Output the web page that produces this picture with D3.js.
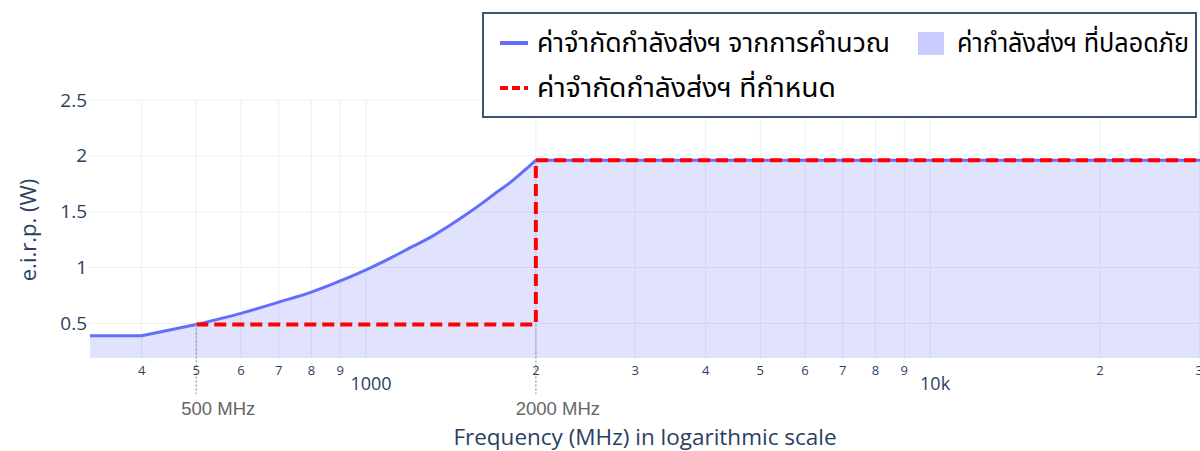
<!DOCTYPE html>
<html>
<head>
<meta charset="utf-8">
<script src="https://cdn.jsdelivr.net/npm/d3@7"></script>
<style>
  body { margin: 0; background: #fff; }
  svg { display: block; }
  .thai { font-family: "Noto Sans Thai", "Leelawadee UI", Tahoma, "Noto Sans", sans-serif; }
</style>
</head>
<body>
<svg id="chart" width="1200" height="451"></svg>
<script>
// calculated e.i.r.p. limit (blue line + fill)
const calcFreq = [300, 400, 500, 600, 700, 800, 900, 1000, 1100, 1200, 1300, 1400, 1500, 1600, 1700, 1800, 1900, 2000, 40000];
const calcEirp = [0.39, 0.39, 0.49, 0.59, 0.69, 0.78, 0.88, 0.98, 1.08, 1.18, 1.27, 1.37, 1.47, 1.57, 1.67, 1.76, 1.86, 1.96, 1.96];

// regulated limit (red dashed)
const limitFreq = [500, 2000, 2000, 40000];
const limitEirp = [0.49, 0.49, 1.96, 1.96];

const yTicks = [0.5, 1, 1.5, 2, 2.5];
const minorTicks = [400, 500, 600, 700, 800, 900, 2000, 3000, 4000, 5000, 6000, 7000, 8000, 9000, 20000, 30000];
const majorTicks = [1000, 10000];
const majorLabels = ["1000", "10k"];
const markers = [500, 2000];
const markerLabels = ["500 MHz", "2000 MHz"];

const legendNames = ["ค่าจำกัดกำลังส่งฯ จากการคำนวณ", "ค่ากำลังส่งฯ ที่ปลอดภัย", "ค่าจำกัดกำลังส่งฯ ที่กำหนด"];

const plot = { left: 90, right: 1200, top: 100, bottom: 358 };
const axisColor = "#2a3f5f";
const gridColor = "#ebf0f8";

const svg = d3.select("#chart");

const x = d3.scaleLog().domain([324, 30100]).range([plot.left, plot.right]);
const y = d3.scaleLinear().domain([0.19, 2.5]).range([plot.bottom, plot.top]);

svg.append("defs").append("clipPath").attr("id", "clip")
    .append("rect")
    .attr("x", plot.left).attr("y", plot.top)
    .attr("width", plot.right - plot.left).attr("height", plot.bottom - plot.top);

// grid
const grid = svg.append("g");
grid.selectAll("line.vgrid")
    .data(minorTicks.concat(majorTicks))
    .join("line")
    .attr("class", "vgrid")
    .attr("x1", d => x(d)).attr("x2", d => x(d))
    .attr("y1", plot.top).attr("y2", plot.bottom)
    .style("stroke", gridColor).style("stroke-width", 1);
grid.selectAll("line.hgrid")
    .data(yTicks)
    .join("line")
    .attr("class", "hgrid")
    .attr("x1", plot.left).attr("x2", plot.right)
    .attr("y1", d => y(d)).attr("y2", d => y(d))
    .style("stroke", gridColor).style("stroke-width", 1);

const calc = calcFreq.map((f, i) => ({ f, v: calcEirp[i] }));
const limit = limitFreq.map((f, i) => ({ f, v: limitEirp[i] }));

// the rising part (500..2000) is smooth, the rest is straight
const iStart = calcFreq.indexOf(500), iEnd = calcFreq.indexOf(2000);
const parts = [
    { pts: calc.slice(0, iStart + 1), curve: d3.curveLinear },
    { pts: calc.slice(iStart, iEnd + 1), curve: d3.curveMonotoneX },
    { pts: calc.slice(iEnd), curve: d3.curveLinear }
];

const g = svg.append("g").attr("clip-path", "url(#clip)");

// fill under calculated curve
g.selectAll("path.fill")
    .data(parts)
    .join("path")
    .attr("class", "fill")
    .attr("d", p => d3.area().curve(p.curve).x(d => x(d.f)).y0(y(0)).y1(d => y(d.v))(p.pts))
    .style("fill", "rgba(99,110,250,0.2)")
    .style("stroke", "rgba(99,110,250,0.2)")
    .style("stroke-width", 0.5);

// annotation dotted lines
svg.selectAll("line.marker")
    .data(markers)
    .join("line")
    .attr("class", "marker")
    .attr("x1", d => x(d)).attr("x2", d => x(d))
    .attr("y1", y(0.49)).attr("y2", 394)
    .style("stroke", "#aaa")
    .style("stroke-width", 1.5)
    .style("stroke-dasharray", "2,2");

g.append("path")
    .attr("d", parts.map(p => d3.line().curve(p.curve).x(d => x(d.f)).y(d => y(d.v))(p.pts)).join(""))
    .style("fill", "none")
    .style("stroke", "#636efa")
    .style("stroke-width", 3)
    .style("stroke-linejoin", "round")
    .style("stroke-linecap", "round");

g.append("path")
    .datum(limit)
    .attr("d", d3.line().x(d => x(d.f)).y(d => y(d.v)))
    .style("fill", "none")
    .style("stroke", "#ff0000")
    .style("stroke-width", 4)
    .style("stroke-dasharray", "12,6");

// y tick labels
svg.selectAll("text.ytick")
    .data(yTicks)
    .join("text")
    .attr("class", "ytick")
    .attr("x", 87).attr("y", d => y(d))
    .attr("dy", "0.35em")
    .attr("text-anchor", "end")
    .style("font-family", "'Open Sans', sans-serif")
    .style("font-size", "19px")
    .style("fill", axisColor)
    .text(d => d);

// x tick labels
svg.selectAll("text.xminor")
    .data(minorTicks)
    .join("text")
    .attr("class", "xminor")
    .attr("x", d => x(d)).attr("y", 375)
    .attr("text-anchor", "middle")
    .style("font-family", "'Open Sans', sans-serif")
    .style("font-size", "13px")
    .style("fill", axisColor)
    .text(d => String(d)[0]);

svg.selectAll("text.xmajor")
    .data(majorTicks)
    .join("text")
    .attr("class", "xmajor")
    .attr("x", d => x(d) + 5).attr("y", 390)
    .attr("text-anchor", "middle")
    .style("font-family", "'Open Sans', sans-serif")
    .style("font-size", "18px")
    .style("fill", axisColor)
    .text((d, i) => majorLabels[i]);

// annotations
svg.selectAll("text.marker")
    .data(markers)
    .join("text")
    .attr("class", "marker")
    .attr("x", d => x(d) + 22).attr("y", 415)
    .attr("text-anchor", "middle")
    .style("font-family", "'Liberation Sans', Arial, sans-serif")
    .style("font-size", "18.5px")
    .style("fill", "#666")
    .text((d, i) => markerLabels[i]);

// axis titles
svg.append("text")
    .attr("x", 645).attr("y", 445)
    .attr("text-anchor", "middle")
    .style("font-family", "'Open Sans', sans-serif")
    .style("font-size", "22.5px")
    .style("fill", axisColor)
    .text("Frequency (MHz) in logarithmic scale");

svg.append("text")
    .attr("transform", "translate(36,230) rotate(-90)")
    .attr("text-anchor", "middle")
    .style("font-family", "'Open Sans', sans-serif")
    .style("font-size", "22px")
    .style("fill", axisColor)
    .text("e.i.r.p. (W)");

// legend
const legend = svg.append("g");
legend.append("rect")
    .attr("x", 483).attr("y", 13)
    .attr("width", 713).attr("height", 104)
    .style("fill", "#fff")
    .style("stroke", "#3d5275")
    .style("stroke-width", 2);

legend.append("line")
    .attr("x1", 500).attr("x2", 528).attr("y1", 43).attr("y2", 43)
    .style("stroke", "#636efa").style("stroke-width", 4);
legend.append("rect")
    .attr("x", 918).attr("y", 32).attr("width", 26).attr("height", 23)
    .style("fill", "rgba(99,110,250,0.35)");
legend.append("line")
    .attr("x1", 500).attr("x2", 528).attr("y1", 88).attr("y2", 88)
    .style("stroke", "#ff0000").style("stroke-width", 4)
    .style("stroke-dasharray", "8,4");

const legendPos = [[537, 43], [957, 43], [537, 88]];
const legendWidths = [353, 232, 299];
legend.selectAll("text")
    .data(legendNames)
    .join("text")
    .attr("class", "thai")
    .attr("x", (d, i) => legendPos[i][0])
    .attr("y", (d, i) => legendPos[i][1])
    .attr("dy", "0.35em")
    .attr("textLength", (d, i) => legendWidths[i])
    .attr("lengthAdjust", "spacingAndGlyphs")
    .style("font-size", "26px")
    .style("fill", "#000")
    .text(d => d);
</script>
</body>
</html>
